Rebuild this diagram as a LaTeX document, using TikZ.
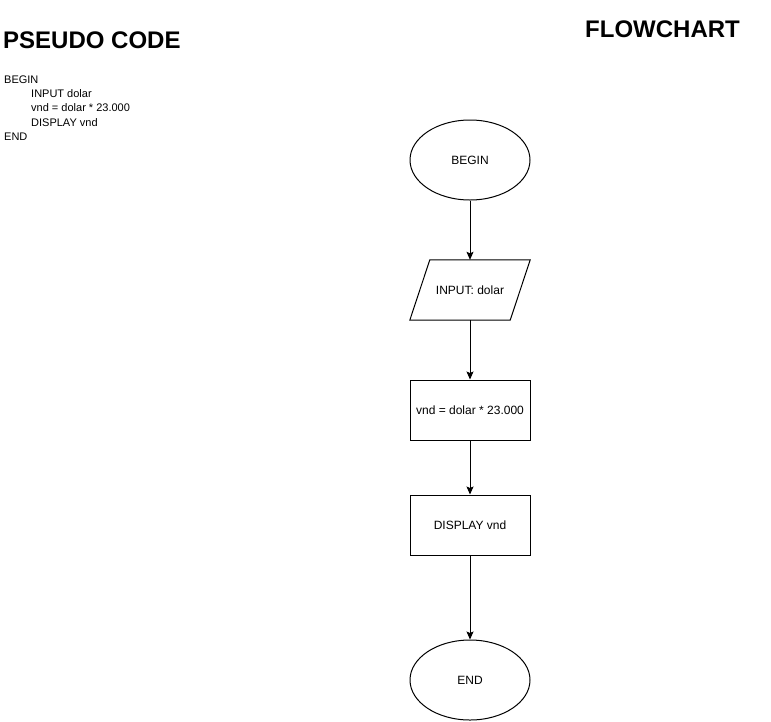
\documentclass[tikz,border=0pt]{standalone}
\usepackage{fontspec}
\setmainfont{Liberation Sans}
\usetikzlibrary{arrows.meta,shapes.geometric}
\begin{document}
\begin{tikzpicture}[x=1pt,y=-1pt,
  shapeline/.style={draw=black,line width=1pt},
  term/.style={shapeline,ellipse,minimum width=120pt,minimum height=80pt,inner sep=0pt,font=\fontsize{12}{14}\selectfont},
  procbox/.style={shapeline,rectangle,minimum width=120pt,minimum height=60pt,inner sep=0pt,font=\fontsize{12}{14}\selectfont},
  iobox/.style={rectangle,minimum width=120pt,minimum height=60pt,inner sep=0pt,font=\fontsize{12}{14}\selectfont},
  flow/.style={line width=1pt,-{Stealth[length=8pt,width=7pt,inset=1.5pt]}},
  title/.style={anchor=base west,inner sep=0pt,font=\fontsize{24}{28}\selectfont\bfseries},
  code/.style={anchor=base west,inner sep=0pt,font=\fontsize{11}{13}\selectfont}
]
\useasboundingbox (0,0) rectangle (771,721);
\node[title] (t1) at (3,48) {PSEUDO CODE};
\node[title] (t2) at (585,37) {FLOWCHART};
\node[code] (c1) at (4,83.3) {BEGIN};
\node[code] (c2) at (31,97.5) {INPUT dolar};
\node[code] (c3) at (31,111.7) {vnd = dolar * 23.000};
\node[code] (c4) at (31,126) {DISPLAY vnd};
\node[code] (c5) at (4,140.2) {END};

\node[term] (begin) at (470,160) {BEGIN};
\node[iobox] (input) at (470,290) {INPUT: dolar};
\draw[shapeline] ([xshift=20pt]input.north west) -- (input.north east) -- ([xshift=-20pt]input.south east) -- (input.south west) -- cycle;
\node[procbox] (calc) at (470,410) {vnd = dolar * 23.000};
\node[procbox] (disp) at (470,525) {DISPLAY vnd};
\node[term] (end) at (470,680) {END};

\draw[flow] (begin) -- (input);
\draw[flow] (input) -- (calc);
\draw[flow] (calc) -- (disp);
\draw[flow] (disp) -- (end);
\end{tikzpicture}
\end{document}
